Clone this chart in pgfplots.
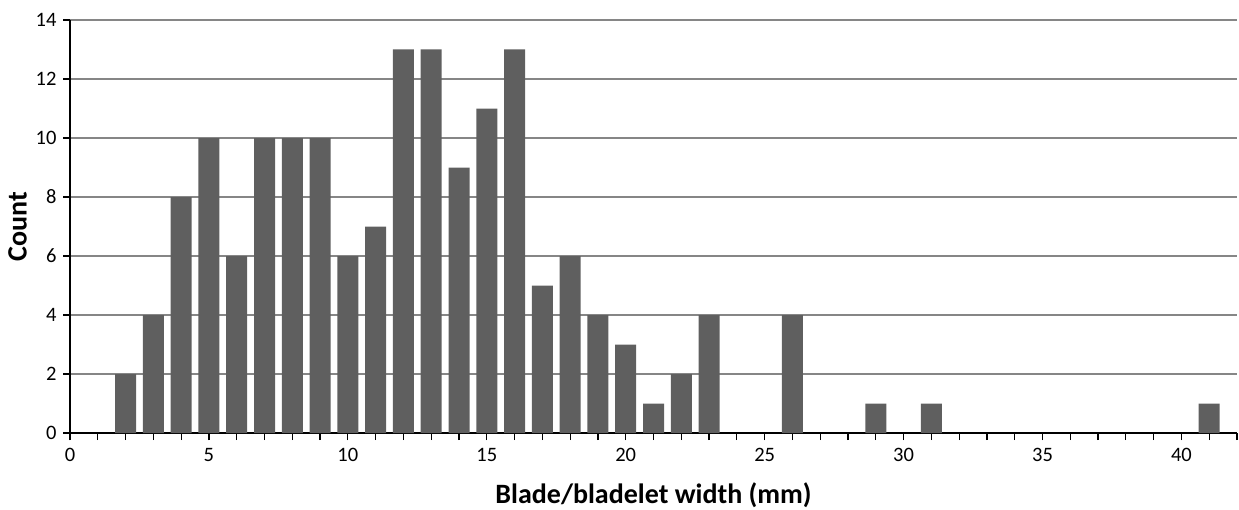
\documentclass[border=0pt]{standalone}
\usepackage{pgfplots}
\pgfplotsset{compat=1.18}
\usepackage{fontspec}
\setmainfont{Carlito}
\definecolor{barc}{RGB}{95,95,95}
\definecolor{gridc}{RGB}{134,134,134}
\begin{document}
\begin{tikzpicture}
\begin{axis}[name=ax,
  scale only axis, width=1167pt, height=413pt,
  xmin=0, xmax=42, ymin=0, ymax=14,
  axis lines*=left,
  axis line style={black, line width=1.4pt},
  xtick={0,5,...,40}, minor xtick={0,1,...,42},
  ytick={0,2,...,14},
  tick align=outside,
  major tick length=7pt, minor tick length=7pt,
  every tick/.style={black, line width=1.2pt},
  ymajorgrids, grid style={gridc, line width=1.5pt},
  /pgf/number format/assume math mode=true,
  tick label style={font=\fontsize{20.5}{24}\selectfont},
  xticklabel style={yshift=-5pt},
  yticklabel style={xshift=-3pt},
  xlabel={Blade/bladelet width (mm)},
  ylabel={Count},
  label style={font=\fontsize{28}{32}\selectfont\bfseries},
  xlabel style={at={(axis description cs:0.5,0)}, anchor=base, yshift=-70pt},
  ylabel style={at={(axis description cs:-0.045,0.5)}, anchor=center},
  ybar, bar width=21pt,
]
\addplot[fill=barc, draw=none] coordinates {
(2,2) (3,4) (4,8) (5,10) (6,6) (7,10) (8,10) (9,10) (10,6) (11,7)
(12,13) (13,13) (14,9) (15,11) (16,13) (17,5) (18,6) (19,4) (20,3)
(21,1) (22,2) (23,4) (26,4) (29,1) (31,1) (41,1)
};
\end{axis}
\pgfresetboundingbox
\path[use as bounding box] ([shift={(-70pt,-76pt)}]ax.south west) rectangle ([shift={(2pt,20pt)}]ax.north east);
\end{tikzpicture}
\end{document}
